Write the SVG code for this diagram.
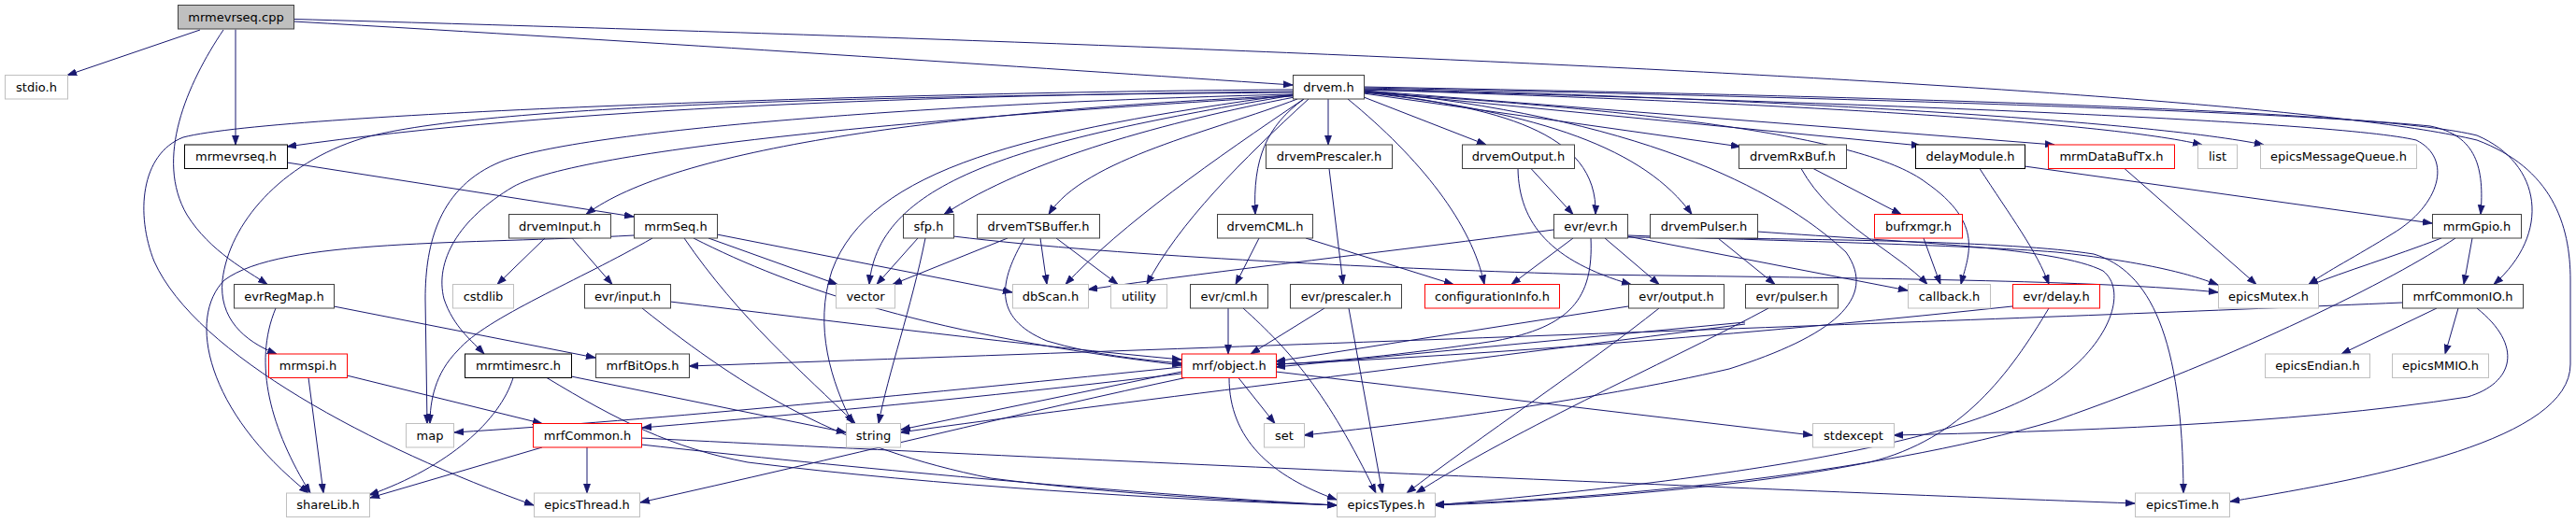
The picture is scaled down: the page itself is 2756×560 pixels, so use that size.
<svg xmlns="http://www.w3.org/2000/svg" width="2756" height="560" viewBox="0 0 2756 560">
<style>
.nd rect{fill:#fff;stroke:#404040;stroke-width:1}
.nd.k rect{stroke:#000}
.nd.g rect{stroke:#bfbfbf}
.nd.r rect{stroke:#ff0000}
.nd.root rect{fill:#bfbfbf;stroke:#404040}
.nd text{font-family:"DejaVu Sans","Liberation Sans",sans-serif;font-size:13px;text-anchor:middle;fill:#000}
#edges path{fill:none;stroke:#191970;stroke-width:1;marker-end:url(#arr)}
</style>
<defs>
<marker id="arr" markerUnits="userSpaceOnUse" markerWidth="11" markerHeight="9" refX="10" refY="4.5" orient="auto">
<path d="M0,1 L10,4.5 L0,8 Z" fill="#191970" stroke="#191970" stroke-width="0.8"/>
</marker>
</defs>
<rect width="2756" height="560" fill="#fff"/>
<g id="edges">
<path d="M214,32 L72,80.5"/>
<path d="M252,31.5 L252,155"/>
<path d="M239,32 C200,90 165,170 200,230 C225,270 265,290 286,304.5"/>
<path d="M314,23 C700,45 1100,72 1383,91"/>
<path d="M314,20.5 C1200,45 2400,90 2650,150 C2730,180 2750,240 2750,300 L2750,390 C2750,470 2550,510 2386,537"/>
<path d="M307,174 L678,232"/>
<path d="M1383,98 C1000,102 600,115 307,157"/>
<path d="M1385,102 C1000,120 720,160 627,229.5"/>
<path d="M1383,99 C1000,102 520,110 388,148 C300,175 245,240 238,300 C234,340 260,365 296,379"/>
<path d="M1383,96 C1000,98 300,120 196,147 C150,165 145,230 165,280 C210,380 400,480 571,541"/>
<path d="M1383,101 C1000,110 620,140 536,173 C470,200 455,260 455,320 L457,453.5"/>
<path d="M1383,103 C1000,125 620,160 549,200 C490,235 465,280 475,320 C485,350 505,365 518,379"/>
<path d="M1385,104 C1250,130 1100,170 1010,229.5"/>
<path d="M1388,106 C1300,140 1160,170 1122,229.5"/>
<path d="M1395,106 C1355,135 1340,170 1343,229.5"/>
<path d="M1395,106 C1300,170 1200,240 1140,304.5"/>
<path d="M1400,106 C1330,170 1260,240 1227,304.5"/>
<path d="M1383,102 C1100,150 940,190 930,304.5"/>
<path d="M1383,101 C1100,140 930,180 890,290 C870,350 890,410 912,453.5"/>
<path d="M1442,106 C1520,170 1575,240 1588,304.5"/>
<path d="M1421,106 L1421,155"/>
<path d="M1459,104 L1590,155"/>
<path d="M1459,98 C1600,115 1710,140 1707,229.5"/>
<path d="M1459,99 C1650,120 1760,160 1810,229.5"/>
<path d="M1459,100 L1862,157"/>
<path d="M1459,98 L2055,156"/>
<path d="M1459,97 L2198,155"/>
<path d="M1459,96 C1900,110 2250,130 2356,155"/>
<path d="M1459,95 C1900,105 2300,130 2422,155"/>
<path d="M1459,94 C2000,105 2450,120 2600,135 C2650,145 2658,180 2654,229.5"/>
<path d="M1459,93 C2100,105 2550,120 2650,145 C2720,175 2730,250 2668,304.5"/>
<path d="M1459,96 C2000,110 2500,130 2585,150 C2625,170 2610,220 2560,250 C2520,275 2490,290 2470,304.5"/>
<path d="M1459,99 C1800,120 2000,150 2060,195 C2125,240 2105,275 2098,304.5"/>
<path d="M1459,97 C1750,125 1900,200 1975,270 C2010,320 1960,360 1850,395 C1700,430 1500,455 1395,466"/>
<path d="M1422,180.5 L1437,304.5"/>
<path d="M1638,180.5 L1683,229.5"/>
<path d="M1624,180.5 C1625,240 1660,280 1745,304.5"/>
<path d="M1940,180.5 L2034,229.5"/>
<path d="M1927,180.5 C1960,240 2030,270 2062,304.5"/>
<path d="M2118,180.5 C2150,230 2180,270 2192,304.5"/>
<path d="M2166,178 L2602,239"/>
<path d="M2273,180.5 L2414,304.5"/>
<path d="M583,255 L532,304.5"/>
<path d="M612,255 L655,304.5"/>
<path d="M678,252 C500,262 300,255 240,300 C200,340 220,440 330,528"/>
<path d="M698,255 C620,300 520,340 490,375 C465,400 460,430 460,453.5"/>
<path d="M732,255 C790,340 860,400 915,453.5"/>
<path d="M742,255 C850,310 1000,360 1264,391"/>
<path d="M758,255 L896,304.5"/>
<path d="M767,251 L1083,313"/>
<path d="M982,255 L938,304.5"/>
<path d="M990,255 C975,330 950,400 940,453.5"/>
<path d="M1020,253 C1200,275 1500,288 1700,294 C2000,298 2250,300 2373,313"/>
<path d="M1078,255 L955,304.5"/>
<path d="M1096,255 C1070,300 1060,340 1120,365 C1170,380 1220,385 1264,389"/>
<path d="M1113,255 L1120,304.5"/>
<path d="M1130,255 L1196,304.5"/>
<path d="M1347,255 L1322,304.5"/>
<path d="M1397,255 L1555,304.5"/>
<path d="M1662,246 C1500,268 1300,290 1164,310"/>
<path d="M1683,255 L1617,304.5"/>
<path d="M1702,255 C1705,320 1680,350 1600,365 C1500,380 1420,388 1365,390"/>
<path d="M1717,255 L1775,304.5"/>
<path d="M1741,253 L2041,311"/>
<path d="M1741,252 C1900,258 2100,262 2200,270 C2290,280 2340,292 2373,305"/>
<path d="M1741,254 C1950,256 2150,258 2240,272 C2300,290 2335,360 2336,528"/>
<path d="M1838,255 L1899,304.5"/>
<path d="M1880,248 C2050,260 2200,265 2250,290 C2275,310 2260,360 2210,400 C2150,450 2000,500 1535,541"/>
<path d="M2058,255 L2076,304.5"/>
<path d="M1742,328 L1365,387"/>
<path d="M1775,330 C1700,390 1580,470 1505,528"/>
<path d="M1867,345 L1365,393"/>
<path d="M1867,347 C1500,395 1200,430 963,463"/>
<path d="M1892,330 C1800,380 1620,460 1515,528"/>
<path d="M1314,330 L1314,379"/>
<path d="M1330,330 C1380,375 1420,420 1472,528"/>
<path d="M1417,330 L1338,379"/>
<path d="M1443,330 L1479,528"/>
<path d="M717,323 C900,345 1100,370 1264,385"/>
<path d="M687,330 C800,420 900,480 1060,512 C1200,530 1330,536 1430,541"/>
<path d="M2153,328 C1900,355 1600,380 1365,390"/>
<path d="M2192,330 C2150,400 2100,470 2000,495 C1850,525 1650,537 1535,541"/>
<path d="M2612,255 C2560,275 2510,290 2470,306"/>
<path d="M2627,255 C2560,300 2400,380 2200,450 C2000,510 1700,535 1535,540"/>
<path d="M2645,255 L2636,304.5"/>
<path d="M2607,330 L2505,379"/>
<path d="M2630,330 L2616,379"/>
<path d="M2570,324 C2200,340 1500,365 737,392"/>
<path d="M2650,330 C2700,370 2690,410 2640,425 C2450,455 2200,462 2026,466"/>
<path d="M628,479 L628,528"/>
<path d="M580,479 L396,533"/>
<path d="M686,469 C1200,495 1900,525 2284,539"/>
<path d="M686,476 C900,500 1200,528 1430,541"/>
<path d="M330,404.5 L346,528"/>
<path d="M371,402 L580,453.5"/>
<path d="M549,404.5 C535,450 480,500 395,530"/>
<path d="M611,403 L905,463"/>
<path d="M585,404.5 C660,450 720,480 800,495 C1000,520 1250,535 1430,541"/>
<path d="M295,330 C270,390 290,460 332,528"/>
<path d="M357,328 L637,383"/>
<path d="M1325,404.5 L1364,453.5"/>
<path d="M1315,404.5 C1315,470 1360,510 1430,535"/>
<path d="M1264,398 L964,460"/>
<path d="M1264,393 C1000,420 700,450 486,463"/>
<path d="M1264,400 C1100,420 900,440 687,458"/>
<path d="M1268,404.5 C1100,440 900,490 685,538"/>
<path d="M1365,398 L1939,466"/>
</g>
<g id="n0" class="nd root"><rect x="190.5" y="5.5" width="124" height="25.5"/><text x="252.5" y="22.8">mrmevrseq.cpp</text></g>
<g id="n1" class="nd g"><rect x="5.5" y="80.5" width="67" height="25.5"/><text x="39" y="97.8">stdio.h</text></g>
<g id="n2" class="nd"><rect x="1383.5" y="80.5" width="76" height="25.5"/><text x="1421.5" y="97.8">drvem.h</text></g>
<g id="n3" class="nd k"><rect x="197.5" y="155" width="110" height="25.5"/><text x="252.5" y="172.3">mrmevrseq.h</text></g>
<g id="n4" class="nd"><rect x="1354.5" y="155" width="135" height="25.5"/><text x="1422" y="172.3">drvemPrescaler.h</text></g>
<g id="n5" class="nd"><rect x="1564.5" y="155" width="120" height="25.5"/><text x="1624.5" y="172.3">drvemOutput.h</text></g>
<g id="n6" class="nd"><rect x="1860.5" y="155" width="115" height="25.5"/><text x="1918" y="172.3">drvemRxBuf.h</text></g>
<g id="n7" class="nd k"><rect x="2049.5" y="155" width="117" height="25.5"/><text x="2108" y="172.3">delayModule.h</text></g>
<g id="n8" class="nd r"><rect x="2191.5" y="155" width="135" height="25.5"/><text x="2259" y="172.3">mrmDataBufTx.h</text></g>
<g id="n9" class="nd g"><rect x="2351.5" y="155" width="42" height="25.5"/><text x="2372.5" y="172.3">list</text></g>
<g id="n10" class="nd g"><rect x="2418.5" y="155" width="167" height="25.5"/><text x="2502" y="172.3">epicsMessageQueue.h</text></g>
<g id="n11" class="nd"><rect x="544.5" y="229.5" width="109" height="25.5"/><text x="599" y="246.8">drvemInput.h</text></g>
<g id="n12" class="nd"><rect x="678.5" y="229.5" width="89" height="25.5"/><text x="723" y="246.8">mrmSeq.h</text></g>
<g id="n13" class="nd"><rect x="966.5" y="229.5" width="54" height="25.5"/><text x="993.5" y="246.8">sfp.h</text></g>
<g id="n14" class="nd"><rect x="1045.5" y="229.5" width="131" height="25.5"/><text x="1111" y="246.8">drvemTSBuffer.h</text></g>
<g id="n15" class="nd"><rect x="1302.5" y="229.5" width="102" height="25.5"/><text x="1353.5" y="246.8">drvemCML.h</text></g>
<g id="n16" class="nd"><rect x="1662.5" y="229.5" width="79" height="25.5"/><text x="1702" y="246.8">evr/evr.h</text></g>
<g id="n17" class="nd"><rect x="1765.5" y="229.5" width="115" height="25.5"/><text x="1823" y="246.8">drvemPulser.h</text></g>
<g id="n18" class="nd r"><rect x="2005.5" y="229.5" width="94" height="25.5"/><text x="2052.5" y="246.8">bufrxmgr.h</text></g>
<g id="n19" class="nd"><rect x="2602.5" y="229.5" width="95" height="25.5"/><text x="2650" y="246.8">mrmGpio.h</text></g>
<g id="n20" class="nd"><rect x="250.5" y="304.5" width="107" height="25.5"/><text x="304" y="321.8">evrRegMap.h</text></g>
<g id="n21" class="nd g"><rect x="484.5" y="304.5" width="65" height="25.5"/><text x="517" y="321.8">cstdlib</text></g>
<g id="n22" class="nd"><rect x="625.5" y="304.5" width="92" height="25.5"/><text x="671.5" y="321.8">evr/input.h</text></g>
<g id="n23" class="nd g"><rect x="894.5" y="304.5" width="63" height="25.5"/><text x="926" y="321.8">vector</text></g>
<g id="n24" class="nd g"><rect x="1083.5" y="304.5" width="81" height="25.5"/><text x="1124" y="321.8">dbScan.h</text></g>
<g id="n25" class="nd g"><rect x="1188.5" y="304.5" width="60" height="25.5"/><text x="1218.5" y="321.8">utility</text></g>
<g id="n26" class="nd"><rect x="1273.5" y="304.5" width="83" height="25.5"/><text x="1315" y="321.8">evr/cml.h</text></g>
<g id="n27" class="nd"><rect x="1380.5" y="304.5" width="119" height="25.5"/><text x="1440" y="321.8">evr/prescaler.h</text></g>
<g id="n28" class="nd r"><rect x="1524.5" y="304.5" width="144" height="25.5"/><text x="1596.5" y="321.8">configurationInfo.h</text></g>
<g id="n29" class="nd"><rect x="1742.5" y="304.5" width="102" height="25.5"/><text x="1793.5" y="321.8">evr/output.h</text></g>
<g id="n30" class="nd"><rect x="1867.5" y="304.5" width="99" height="25.5"/><text x="1917" y="321.8">evr/pulser.h</text></g>
<g id="n31" class="nd g"><rect x="2041.5" y="304.5" width="88" height="25.5"/><text x="2085.5" y="321.8">callback.h</text></g>
<g id="n32" class="nd r"><rect x="2153.5" y="304.5" width="93" height="25.5"/><text x="2200" y="321.8">evr/delay.h</text></g>
<g id="n33" class="nd g"><rect x="2373.5" y="304.5" width="107" height="25.5"/><text x="2427" y="321.8">epicsMutex.h</text></g>
<g id="n34" class="nd"><rect x="2570.5" y="304.5" width="129" height="25.5"/><text x="2635" y="321.8">mrfCommonIO.h</text></g>
<g id="n35" class="nd r"><rect x="287.5" y="379" width="84" height="25.5"/><text x="329.5" y="396.3">mrmspi.h</text></g>
<g id="n36" class="nd k"><rect x="497.5" y="379" width="114" height="25.5"/><text x="554.5" y="396.3">mrmtimesrc.h</text></g>
<g id="n37" class="nd"><rect x="637.5" y="379" width="100" height="25.5"/><text x="687.5" y="396.3">mrfBitOps.h</text></g>
<g id="n38" class="nd r"><rect x="1264.5" y="379" width="101" height="25.5"/><text x="1315" y="396.3">mrf/object.h</text></g>
<g id="n39" class="nd g"><rect x="2423.5" y="379" width="112" height="25.5"/><text x="2479.5" y="396.3">epicsEndian.h</text></g>
<g id="n40" class="nd g"><rect x="2559.5" y="379" width="103" height="25.5"/><text x="2611" y="396.3">epicsMMIO.h</text></g>
<g id="n41" class="nd g"><rect x="434.5" y="453.5" width="51" height="25.5"/><text x="460" y="470.8">map</text></g>
<g id="n42" class="nd r"><rect x="570.5" y="453.5" width="116" height="25.5"/><text x="628.5" y="470.8">mrfCommon.h</text></g>
<g id="n43" class="nd g"><rect x="905.5" y="453.5" width="58" height="25.5"/><text x="934.5" y="470.8">string</text></g>
<g id="n44" class="nd g"><rect x="1352.5" y="453.5" width="43" height="25.5"/><text x="1374" y="470.8">set</text></g>
<g id="n45" class="nd g"><rect x="1939.5" y="453.5" width="87" height="25.5"/><text x="1983" y="470.8">stdexcept</text></g>
<g id="n46" class="nd g"><rect x="306.5" y="528" width="89" height="25.5"/><text x="351" y="545.3">shareLib.h</text></g>
<g id="n47" class="nd g"><rect x="571.5" y="528" width="113" height="25.5"/><text x="628" y="545.3">epicsThread.h</text></g>
<g id="n48" class="nd g"><rect x="1430.5" y="528" width="105" height="25.5"/><text x="1483" y="545.3">epicsTypes.h</text></g>
<g id="n49" class="nd g"><rect x="2284.5" y="528" width="101" height="25.5"/><text x="2335" y="545.3">epicsTime.h</text></g>
</svg>
